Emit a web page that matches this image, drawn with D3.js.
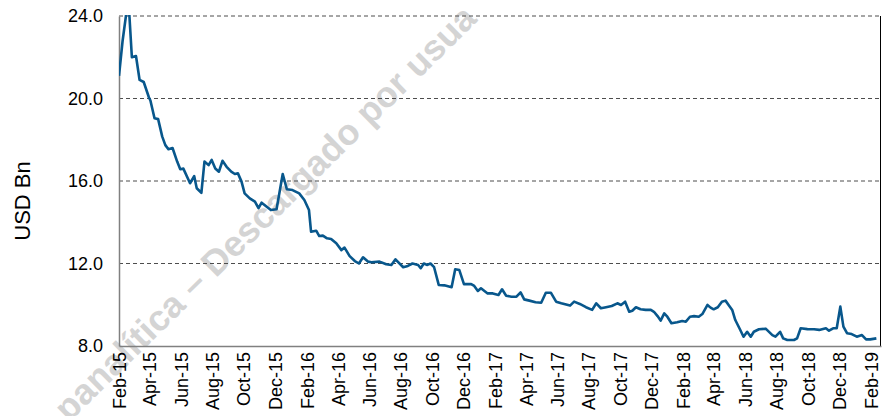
<!DOCTYPE html>
<html>
<head>
<meta charset="utf-8">
<script src="https://cdn.jsdelivr.net/npm/d3@7"></script>
<style>
  body { margin: 0; background: #fff; }
  svg { display: block; font-family: "Liberation Sans", Arial, sans-serif; }
</style>
</head>
<body>
<svg id="chart" width="888" height="416"></svg>
<script>
// weekly-ish readings of the series, USD Bn
var dates = [
  "2015-02-01","2015-02-08","2015-02-15","2015-02-21","2015-02-26","2015-03-06","2015-03-13","2015-03-21",
  "2015-03-31","2015-04-03","2015-04-11","2015-04-18","2015-04-26","2015-05-02","2015-05-08","2015-05-16",
  "2015-05-25","2015-05-31","2015-06-06","2015-06-19","2015-06-27","2015-07-02","2015-07-11","2015-07-17",
  "2015-07-25","2015-07-31","2015-08-07","2015-08-14","2015-08-21","2015-08-29","2015-09-07","2015-09-14",
  "2015-09-20","2015-09-27","2015-10-03","2015-10-13","2015-10-23","2015-10-30","2015-11-05","2015-11-15",
  "2015-11-23","2015-12-04","2015-12-16","2015-12-24","2016-01-04","2016-01-17","2016-01-27","2016-02-05",
  "2016-02-09","2016-02-19","2016-02-25","2016-03-03","2016-03-11","2016-03-19","2016-03-29","2016-04-08",
  "2016-04-14","2016-04-24","2016-05-04","2016-05-12","2016-05-20","2016-05-30","2016-06-05","2016-06-21",
  "2016-07-04","2016-07-14","2016-07-22","2016-08-06","2016-08-15","2016-08-24","2016-09-04","2016-09-09",
  "2016-09-15","2016-09-22","2016-09-28","2016-10-05","2016-10-14","2016-10-25","2016-11-08","2016-11-15",
  "2016-11-23","2016-12-02","2016-12-16","2016-12-22","2016-12-29","2017-01-04","2017-01-17","2017-01-27",
  "2017-02-07","2017-02-14","2017-02-22","2017-03-04","2017-03-14","2017-03-22","2017-03-29","2017-04-08",
  "2017-04-20","2017-05-01","2017-05-10","2017-05-20","2017-05-30","2017-06-09","2017-06-26","2017-07-04",
  "2017-07-15","2017-07-27","2017-08-08","2017-08-16","2017-08-25","2017-09-04","2017-09-15","2017-09-26",
  "2017-10-03","2017-10-11","2017-10-19","2017-10-25","2017-11-01","2017-11-10","2017-11-20","2017-11-30",
  "2017-12-06","2017-12-13","2017-12-19","2017-12-26","2018-01-01","2018-01-09","2018-01-20","2018-01-30",
  "2018-02-06","2018-02-14","2018-02-22","2018-03-03","2018-03-10","2018-03-20","2018-03-26","2018-04-01",
  "2018-04-09","2018-04-17","2018-04-24","2018-04-30","2018-05-07","2018-05-13","2018-05-22","2018-05-29",
  "2018-06-05","2018-06-12","2018-06-18","2018-06-28","2018-07-11","2018-07-24","2018-07-30","2018-08-08",
  "2018-08-14","2018-08-22","2018-09-04","2018-09-10","2018-09-17","2018-09-30","2018-10-13","2018-10-23",
  "2018-11-05","2018-11-11","2018-11-19","2018-11-26","2018-12-03","2018-12-09","2018-12-16","2018-12-25",
  "2019-01-04","2019-01-14","2019-01-22","2019-01-30","2019-02-11"
];
var values = [
  21.1, 22.8, 24.1, 24.1, 22.0, 22.06, 20.9, 20.8,
  20.06, 19.9, 19.04, 19.0, 18.15, 17.74, 17.54, 17.6,
  16.94, 16.57, 16.6, 15.89, 16.24, 15.65, 15.43, 16.94,
  16.77, 17.02, 16.61, 16.45, 16.98, 16.69, 16.45, 16.34,
  16.37, 15.97, 15.4, 15.16, 15.0, 14.68, 14.95, 14.75,
  14.59, 14.63, 16.34, 15.6, 15.56, 15.4, 15.08, 14.59,
  13.54, 13.59, 13.33, 13.35, 13.22, 13.19, 12.98, 12.65,
  12.77, 12.36, 12.12, 12.0, 12.3, 12.09, 12.06, 12.09,
  11.96, 11.93, 12.2, 11.82, 11.88, 12.0, 11.93, 11.77,
  12.0, 11.93, 12.0, 11.82, 10.96, 10.94, 10.85, 11.72,
  11.68, 11.0, 11.0, 10.91, 10.67, 10.8, 10.55, 10.55,
  10.47, 10.75, 10.44, 10.39, 10.39, 10.6, 10.26, 10.2,
  10.12, 10.1, 10.58, 10.58, 10.15, 10.07, 9.96, 10.15,
  10.04, 9.88, 9.75, 10.07, 9.83, 9.88, 9.94, 10.07,
  9.99, 10.15, 9.66, 9.71, 9.88, 9.78, 9.75, 9.75,
  9.66, 9.45, 9.23, 9.58, 9.42, 9.1, 9.15, 9.21,
  9.18, 9.42, 9.45, 9.42, 9.55, 9.99, 9.86, 9.78,
  9.88, 10.15, 10.2, 9.99, 9.75, 9.26, 8.81, 8.45,
  8.69, 8.45, 8.69, 8.81, 8.84, 8.53, 8.45, 8.69,
  8.37, 8.29, 8.29, 8.37, 8.86, 8.82, 8.81, 8.78,
  8.86, 8.74, 8.86, 8.86, 9.91, 8.94, 8.62, 8.58,
  8.45, 8.53, 8.32, 8.32, 8.37
];
var tickLabels = [
  "Feb-15","Apr-15","Jun-15","Aug-15","Oct-15","Dec-15",
  "Feb-16","Apr-16","Jun-16","Aug-16","Oct-16","Dec-16",
  "Feb-17","Apr-17","Jun-17","Aug-17","Oct-17","Dec-17",
  "Feb-18","Apr-18","Jun-18","Aug-18","Oct-18","Dec-18","Feb-19"
];
var yTicks = [8, 12, 16, 20, 24];

var svg = d3.select("svg#chart"),
    margin = {top: 16, right: 7, bottom: 70, left: 119},
    width = +svg.attr("width") - margin.left - margin.right,
    height = +svg.attr("height") - margin.top - margin.bottom;

var parseDay = d3.timeParse("%Y-%m-%d"),
    parseTick = d3.timeParse("%b-%y");

var data = dates.map(function(d, i) { return {date: parseDay(d), value: values[i]}; });

var x = d3.scaleTime()
    .domain([new Date(2015, 1, 1), new Date(2019, 1, 20)])
    .range([0, width]);

var y = d3.scaleLinear()
    .domain([8, 24])
    .range([height, 0]);

// watermark, sits under everything
svg.append("text")
    .attr("transform", "translate(60,414) rotate(-44.5)")
    .attr("dy", "0.35em")
    .attr("font-size", 36)
    .attr("font-weight", "bold")
    .attr("fill", "#d4d4d4")
    .text("panalítica – Descargado por usua");

var g = svg.append("g").attr("transform", "translate(" + margin.left + "," + margin.top + ")");

// dashed gridlines
g.append("g")
    .selectAll("line")
    .data(yTicks.filter(function(d) { return d > 8; }))
    .enter().append("line")
      .attr("x1", 0)
      .attr("x2", width)
      .attr("y1", function(d) { return y(d); })
      .attr("y2", function(d) { return y(d); })
      .attr("stroke", "#4d4d4d")
      .attr("stroke-width", 1)
      .attr("stroke-dasharray", "4,3");

// right border
g.append("line")
    .attr("x1", width - 0.5).attr("x2", width - 0.5)
    .attr("y1", 0).attr("y2", height)
    .attr("stroke", "#000")
    .attr("stroke-width", 1);

var yAxis = g.append("g")
    .attr("class", "axis")
    .call(d3.axisLeft(y).tickValues(yTicks).tickSize(0).tickPadding(16).tickFormat(d3.format(".1f")));
yAxis.select(".domain").attr("stroke", "#808080").attr("stroke-width", 1.5);
yAxis.selectAll("text").attr("font-size", 18).attr("fill", "#000").attr("font-family", null);

var xAxis = g.append("g")
    .attr("class", "x_axis")
    .attr("transform", "translate(0," + height + ")")
    .call(d3.axisBottom(x)
      .tickValues(tickLabels.map(function(d) { return parseTick(d); }))
      .tickSize(0)
      .tickFormat(d3.timeFormat("%b-%y")));
xAxis.select(".domain").attr("stroke", "#808080").attr("stroke-width", 1.5);
xAxis.selectAll("text")
    .attr("x", -6)
    .attr("y", 0)
    .attr("dy", "0.35em")
    .attr("transform", "rotate(-90)")
    .style("text-anchor", "end")
    .attr("font-size", 18)
    .attr("fill", "#000")
    .attr("font-family", null);

g.append("defs").append("clipPath")
    .attr("id", "plot-clip")
  .append("rect")
    .attr("x", 0).attr("y", -1)
    .attr("width", width).attr("height", height + 1);

var line = d3.line()
    .x(function(d) { return x(d.date); })
    .y(function(d) { return y(d.value); });

g.append("path")
    .datum(data)
    .attr("clip-path", "url(#plot-clip)")
    .attr("fill", "none")
    .attr("stroke", "#08578c")
    .attr("stroke-width", 2.6)
    .attr("stroke-linejoin", "round")
    .attr("d", line);

svg.append("text")
    .attr("transform", "rotate(-90)")
    .attr("x", -(margin.top + height / 2 + 20))
    .attr("y", 22)
    .attr("dy", "0.35em")
    .style("text-anchor", "middle")
    .attr("font-size", 22)
    .text("USD Bn");
</script>
</body>
</html>
